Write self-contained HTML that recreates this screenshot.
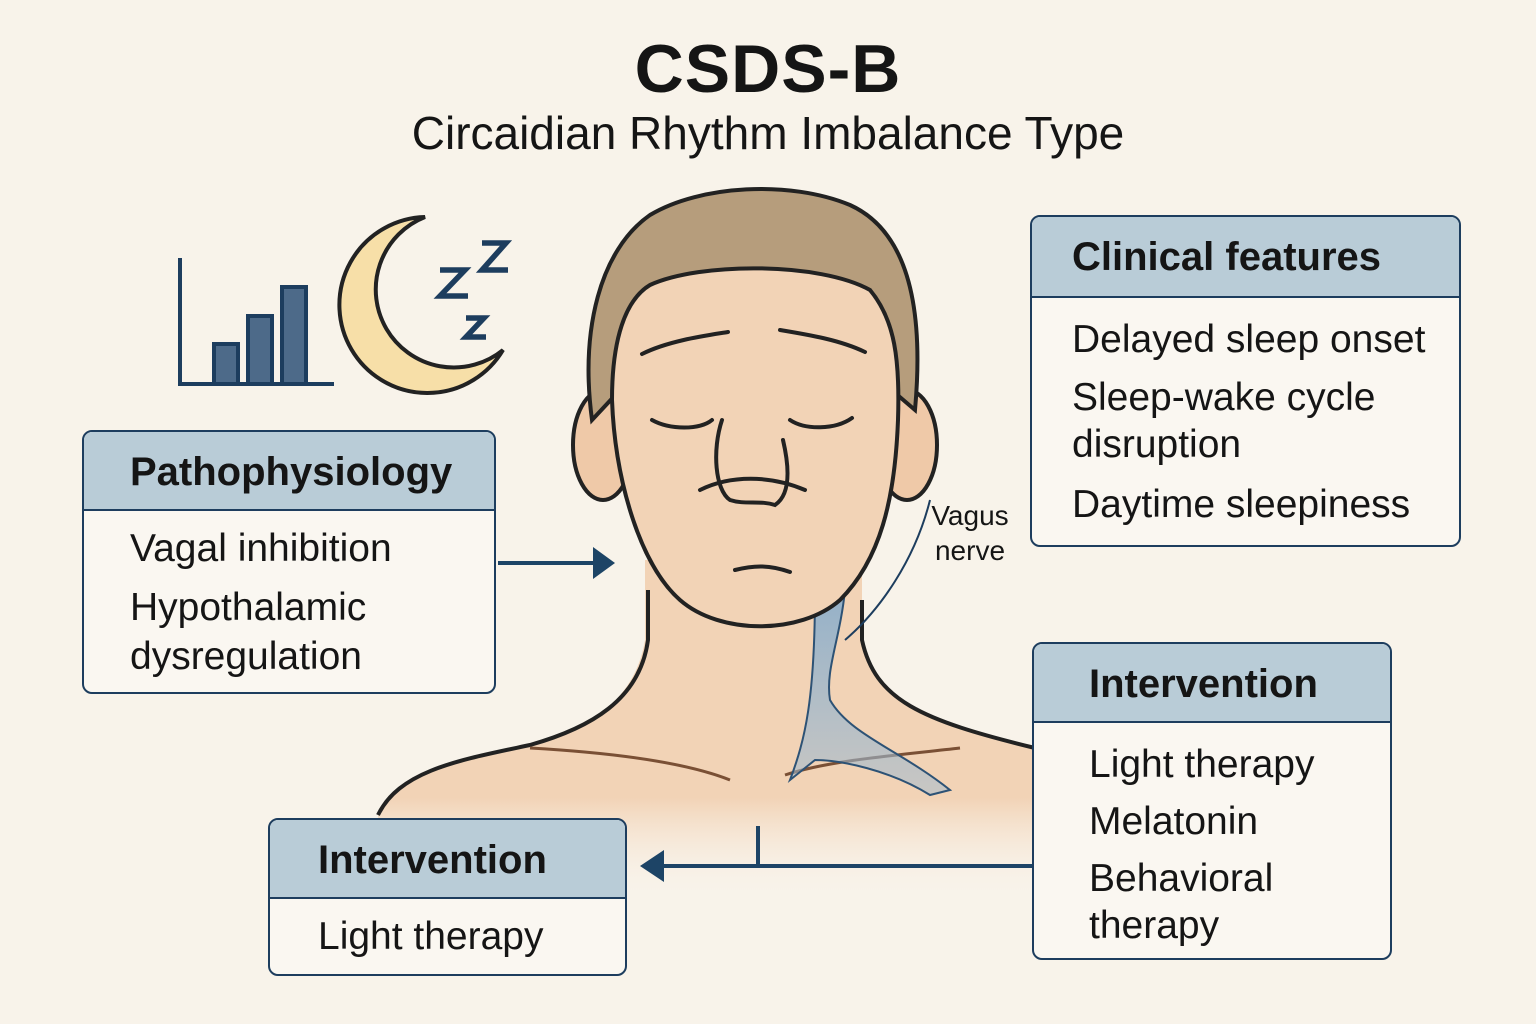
<!DOCTYPE html>
<html><head><meta charset="utf-8"><style>
html,body{margin:0;padding:0}
body{width:1536px;height:1024px;background:#f8f3ea;position:relative;overflow:hidden;font-family:"Liberation Sans","DejaVu Sans",sans-serif;color:#151515}
.t1{position:absolute;left:0;width:1536px;top:30px;text-align:center;font-size:68px;font-weight:bold;letter-spacing:1px}
.t2{position:absolute;left:0;width:1536px;top:106px;text-align:center;font-size:46px}
.box{position:absolute;border:2.5px solid #1d3d5e;border-radius:10px;background:#faf7f1;overflow:hidden;box-sizing:border-box}
.hd{background:#b9ccd7;border-bottom:2.5px solid #1d3d5e;font-weight:bold;font-size:40px;box-sizing:border-box}
.bd{font-size:39px;line-height:1.25}
</style></head><body>
<svg width="1536" height="1024" style="position:absolute;left:0;top:0">
<defs>
<linearGradient id="fade" x1="0" y1="0" x2="0" y2="1">
<stop offset="0.7" stop-color="#f2d3b6"/><stop offset="1" stop-color="#f8f3ea" stop-opacity="0"/>
</linearGradient>
<linearGradient id="nv" x1="0" y1="0" x2="0" y2="1">
<stop offset="0" stop-color="#93b0c8"/><stop offset="1" stop-color="#9fbad0" stop-opacity="0.5"/>
</linearGradient>
</defs>
<!-- body -->
<path d="M378,815 C400,770 460,760 530,745 C590,728 635,700 645,640 L645,560 L862,560 L862,640 C875,700 920,720 1035,748 L1035,900 L378,900 Z" fill="url(#fade)"/>
<path d="M378,815 C400,770 460,760 530,745 C590,728 640,700 648,640 L648,590" fill="none" stroke="#222" stroke-width="4"/>
<path d="M862,600 L862,640 C875,700 920,720 1035,748" fill="none" stroke="#222" stroke-width="4"/>
<path d="M530,748 C600,752 680,760 730,780" fill="none" stroke="#7a5035" stroke-width="3"/>
<path d="M785,775 C830,760 900,755 960,748" fill="none" stroke="#7a5035" stroke-width="3"/>
<!-- vagus -->
<path d="M815,590 L845,590 C840,640 825,670 830,700 C850,735 900,750 950,790 L930,795 C890,770 840,760 815,760 L790,780 C805,740 815,700 815,590 Z" fill="url(#nv)" stroke="#2d5275" stroke-width="2"/>
<path d="M930,500 C915,560 880,610 845,640" fill="none" stroke="#1d3d5e" stroke-width="2"/>
<!-- ears -->
<ellipse cx="603" cy="445" rx="30" ry="55" fill="#efc9a8" stroke="#222" stroke-width="4"/>
<ellipse cx="907" cy="445" rx="30" ry="55" fill="#efc9a8" stroke="#222" stroke-width="4"/>
<!-- hair -->
<path d="M592,420 C580,330 600,250 650,215 C700,185 790,180 850,205 C905,230 925,300 915,410 L880,380 L620,390 Z" fill="#b69d7c" stroke="#222" stroke-width="4"/>
<!-- face -->
<path d="M612,400 C612,340 625,300 650,285 C700,262 820,262 870,290 C895,320 900,360 898,420 C895,500 880,560 840,600 C800,635 720,635 680,600 C640,565 615,480 612,400 Z" fill="#f2d3b6" stroke="#222" stroke-width="4"/>
<!-- features -->
<g fill="none" stroke="#222" stroke-width="4" stroke-linecap="round">
<path d="M642,354 C670,340 710,335 728,332"/><path d="M780,330 C810,335 840,340 865,352"/>
<path d="M652,420 C670,430 700,430 712,420"/><path d="M790,420 C805,430 835,430 852,418"/>
<path d="M722,420 C712,450 715,490 730,500 C745,505 760,500 775,505 C790,495 790,470 783,440"/>
<path d="M700,490 C730,475 770,475 805,490"/>
<path d="M735,570 C755,565 770,565 790,572"/>
</g>
<!-- icons -->
<g stroke="#1d3d5e" stroke-width="4" fill="none">
<path d="M180,258 L180,384 L334,384"/>
<rect x="214" y="344" width="24" height="40" fill="#4d6a89"/>
<rect x="248" y="316" width="24" height="68" fill="#4d6a89"/>
<rect x="282" y="287" width="24" height="97" fill="#4d6a89"/>
</g>
<path d="M425,217 A88,88 0 1 0 503,350 A78,78 0 1 1 425,217 Z" fill="#f7dfa8" stroke="#222" stroke-width="4"/>
<g fill="none" stroke="#1d3d5e" stroke-width="5.5" stroke-linejoin="miter">
<path d="M482,243 L506,243 L482,270 L508,270"/>
<path d="M440,270 L465,270 L440,296 L468,296"/>
<path d="M466,318 L484,318 L466,337 L486,337"/>
</g>
<!-- arrows -->
<g stroke="#1d4466" stroke-width="4" fill="#1d4466">
<line x1="498" y1="563" x2="595" y2="563"/>
<path d="M593,547 L615,563 L593,579 Z" stroke="none"/>
<line x1="1032" y1="866" x2="662" y2="866"/>
<line x1="758" y1="826" x2="758" y2="866"/>
<path d="M664,850 L640,866 L664,882 Z" stroke="none"/>
</g>
<text x="970" y="525" font-family="Liberation Sans,sans-serif" font-size="28" text-anchor="middle" fill="#151515">Vagus</text>
<text x="970" y="560" font-family="Liberation Sans,sans-serif" font-size="28" text-anchor="middle" fill="#151515">nerve</text>
</svg>
<div class="t1">CSDS-B</div>
<div class="t2">Circaidian Rhythm Imbalance Type</div>

<div class="box" style="left:82px;top:430px;width:414px;height:264px">
<div class="hd" style="height:79px;padding:18px 0 0 46px">Pathophysiology</div>
<div class="bd" style="padding:14px 0 0 46px;line-height:1.25">Vagal inhibition<br><span style="display:inline-block;margin-top:10px">Hypothalamic</span><br>dysregulation</div>
</div>

<div class="box" style="left:1030px;top:215px;width:431px;height:332px">
<div class="hd" style="height:81px;padding:18px 0 0 40px">Clinical features</div>
<div class="bd" style="padding:18px 0 0 40px;line-height:1.22">Delayed sleep onset<br><span style="display:inline-block;margin-top:10px">Sleep-wake cycle</span><br>disruption<br><span style="display:inline-block;margin-top:12px">Daytime sleepiness</span></div>
</div>

<div class="box" style="left:1032px;top:642px;width:360px;height:318px">
<div class="hd" style="height:79px;padding:18px 0 0 55px">Intervention</div>
<div class="bd" style="padding:14px 0 0 55px;line-height:1.46">Light therapy<br>Melatonin<br>Behavioral<br><span style="position:relative;top:-10px">therapy</span></div>
</div>

<div class="box" style="left:268px;top:818px;width:359px;height:158px">
<div class="hd" style="height:79px;padding:18px 0 0 48px">Intervention</div>
<div class="bd" style="padding:14px 0 0 48px">Light therapy</div>
</div>
</body></html>
